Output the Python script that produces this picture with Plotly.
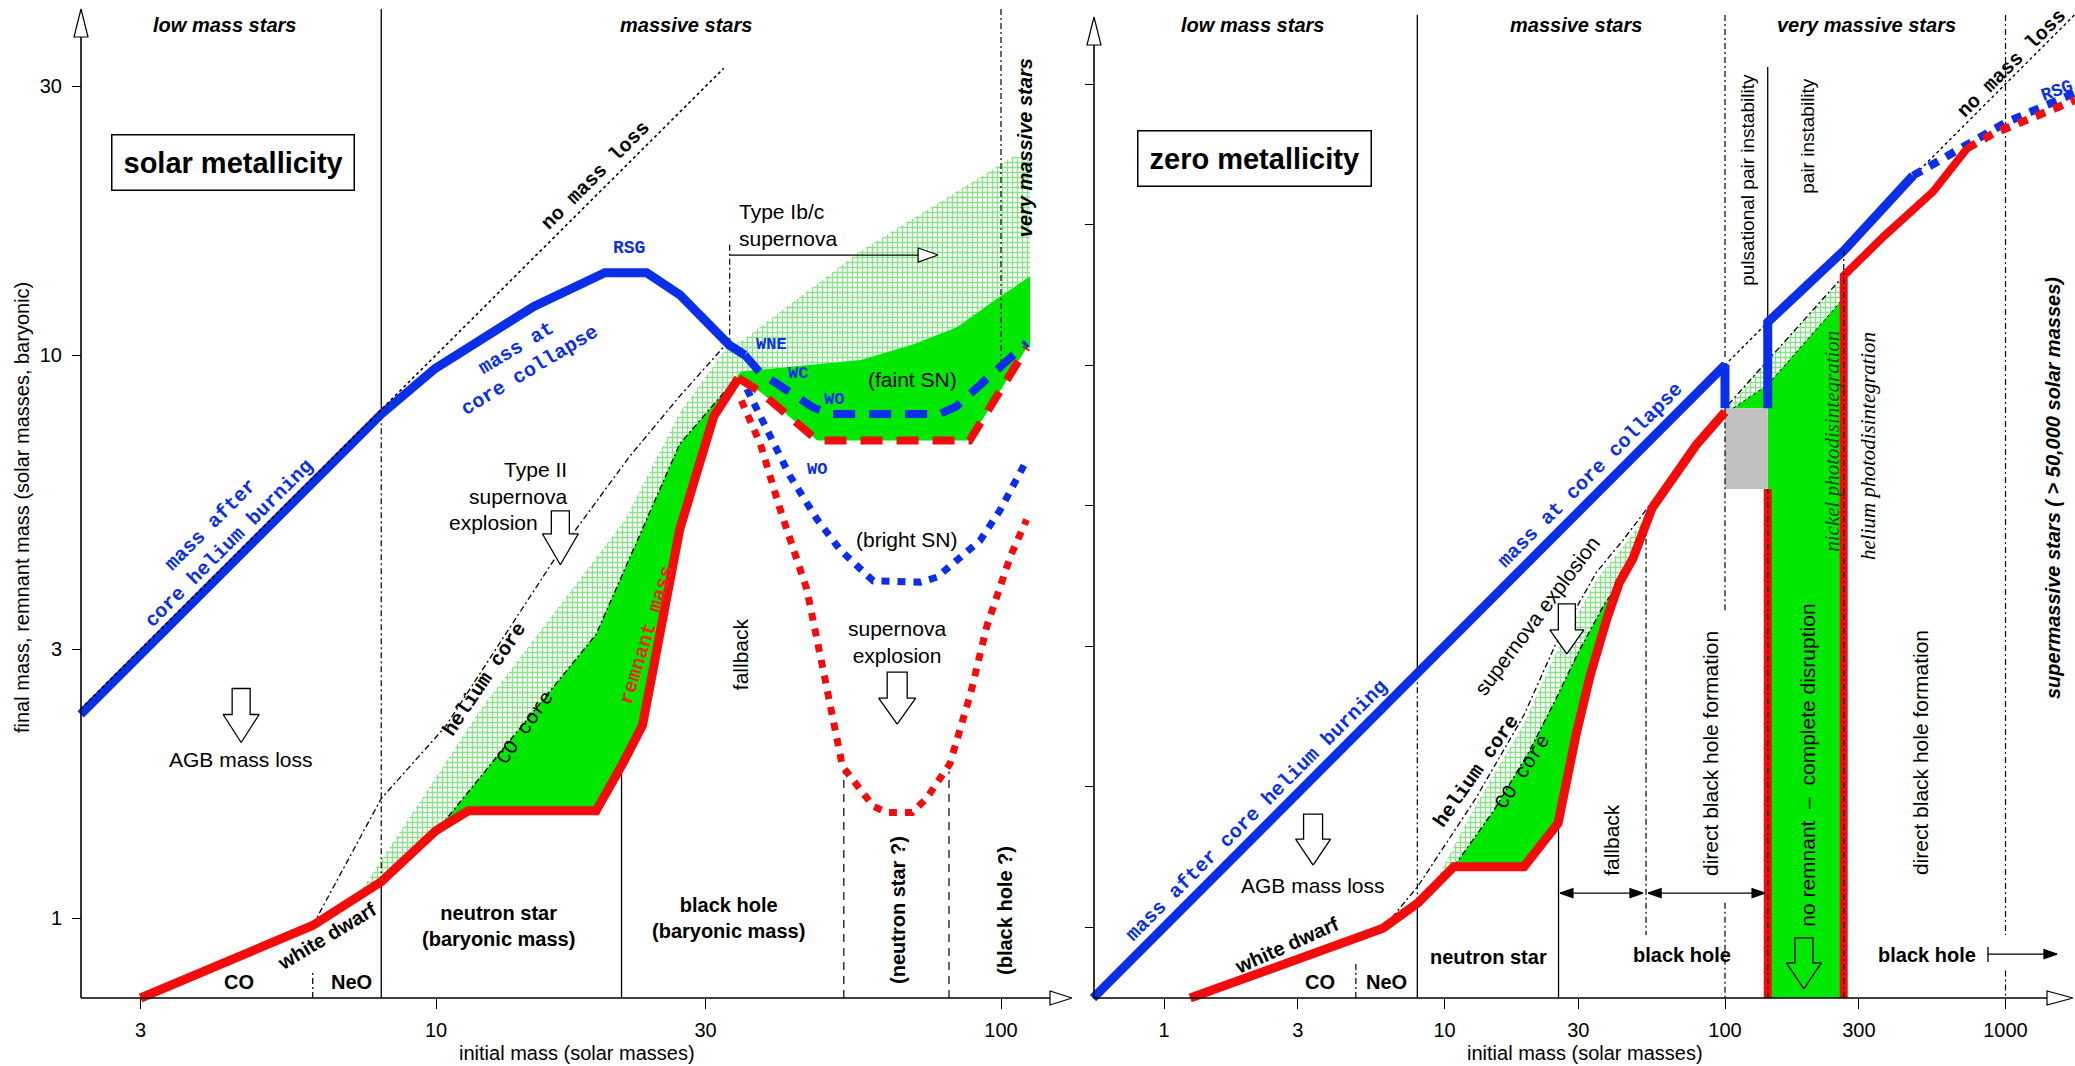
import numpy as np
import plotly.graph_objects as go

# ------------------------------------------------------------------
# Final fate of single stars: final / remnant mass vs. initial mass
# left panel: solar metallicity, right panel: zero metallicity
# all masses in solar masses
# ------------------------------------------------------------------

# ---------- solar metallicity ----------
sol_core_x = [2.35, 8.0, 9.96, 14.9, 19.9, 23.6, 27.0, 33.1, 35.2]          # mass at core collapse
sol_core_y = [2.30, 7.85, 9.46, 12.2, 14.0, 14.0, 12.8, 10.4, 10.0]
sol_wr_faint_x = [35.2, 37.5, 46.6, 49.8, 78.0, 83.3, 111.0]
sol_wr_faint_y = [10.0, 9.3, 8.06, 7.86, 7.86, 8.1, 10.5]
sol_wr_bright_x = [35.5, 38.4, 42.3, 47.3, 52.0, 59.4, 72.0, 77.0, 91.8, 99.6, 111.0]
sol_wr_bright_y = [8.7, 7.45, 6.1, 5.1, 4.5, 3.97, 3.95, 4.03, 4.68, 5.3, 6.5]
sol_rem_x = [3.0, 6.05, 8.0, 10.0, 11.4, 19.2, 21.4, 23.2, 27.0, 31.0, 34.3]   # remnant mass
sol_rem_y = [0.721, 0.97, 1.16, 1.43, 1.55, 1.55, 1.88, 2.2, 4.9, 7.77, 9.1]
sol_rem_faint_x = [34.3, 37.5, 47.3, 88.0, 111.0]
sol_rem_faint_y = [9.1, 8.6, 7.05, 7.05, 10.3]
sol_rem_bright_x = [34.7, 37.5, 40.7, 45.3, 48.3, 51.1, 52.4, 59.4, 62.8, 69.6, 73.8, 81.2, 88.3, 94.4, 104.0, 111.0]
sol_rem_bright_y = [8.3, 6.95, 5.3, 3.84, 2.8, 2.1, 1.86, 1.58, 1.54, 1.54, 1.63, 1.88, 2.5, 3.3, 4.4, 5.1]
sol_he_x = [6.05, 8.0, 10.4, 16.4, 22.0, 27.0, 32.2]                         # helium core
sol_he_y = [0.97, 1.63, 2.19, 4.42, 6.6, 8.45, 10.3]
sol_co_x = [10.15, 19.2, 27.0, 34.0]                                          # CO core
sol_co_y = [1.45, 3.19, 6.95, 9.1]
sol_cotop_x = [34.6, 56.4, 70.0, 83.5, 99.6, 112.6]
sol_cotop_y = [9.35, 9.8, 10.45, 11.2, 12.7, 13.8]
sol_env_x = [7.25, 12.0, 21.6, 27.0, 32.2, 35.2, 56.4, 105.0, 112.6]         # outer edge of helium layer
sol_env_y = [1.09, 2.35, 5.1, 7.9, 10.1, 10.7, 15.3, 22.5, 22.4]
sol_nml = [2.35, 32.3]                                                        # no-mass-loss line y = x
sol_xticks = [3, 10, 30, 100]
sol_yticks = [1, 3, 10, 30]

# ---------- zero metallicity ----------
z_core_x = [0.5585, 100.0, 100.0]
z_core_y = [0.5585, 100.0, 70.2]
z_core2_x = [142.0, 142.0, 265.0, 468.0]
z_core2_y = [70.2, 142.0, 255.0, 472.0]
z_core_rsg_x = [468.0, 635.0, 830.0, 1005.0, 1770.0]
z_core_rsg_y = [472.0, 560.0, 660.0, 730.0, 930.0]
z_rem_x = [1.24, 6.04, 8.05, 10.8, 19.2, 25.4, 29.4, 33.0, 38.0, 42.0, 47.0, 55.0, 79.0, 100.0]
z_rem_y = [0.5585, 0.99, 1.22, 1.64, 1.64, 2.34, 4.8, 7.8, 12.6, 16.8, 20.5, 31.0, 52.0, 68.0]
z_rem_pisn_x = [142.0, 142.0]
z_rem_pisn_y = [0.5585, 36.2]
z_rem_hi_x = [265.0, 265.0, 367.0, 552.0, 730.0]
z_rem_hi_y = [0.5585, 208.0, 286.0, 414.0, 590.0]
z_rem_rsg_x = [730.0, 907.0, 1250.0, 1770.0]
z_rem_rsg_y = [590.0, 667.0, 760.0, 877.0]
z_he_x = [6.04, 8.05, 12.9, 19.2, 24.8, 34.8, 43.3, 69.0, 100.0, 265.0]
z_he_y = [0.99, 1.4, 2.86, 5.68, 10.05, 18.3, 23.8, 44.0, 70.2, 208.0]
z_co_x = [10.8, 15.0, 20.0, 25.0, 30.0, 37.0, 40.5]
z_co_y = [1.64, 2.6, 4.2, 6.5, 9.5, 14.0, 15.9]
z_co_hi_x = [107.0, 142.0, 265.0]
z_co_hi_y = [70.2, 85.0, 173.0]
z_env_x = [8.95, 12.9, 19.2, 24.8, 34.8, 43.3, 55.0]
z_env_y = [1.36, 2.7, 5.3, 9.3, 17.2, 22.6, 31.0]
z_ppi_x = [100.0, 142.0]        # pulsational pair instability box
z_ppi_y = [36.2, 70.2]
z_nml = [0.5585, 1800.0]
z_xticks = [1, 3, 10, 30, 100, 300, 1000]
z_yticks = [10 ** (k / 2) for k in range(7)]

# ------------------------------------------------------------------
W, H = 2075, 1066
SPLIT = 1083
X_AXIS_PX = 998
SANS = "Liberation Sans, Arial, Helvetica, sans-serif"
MONO = "Liberation Mono, Courier New, monospace"
SERIF = "Liberation Serif, Times New Roman, serif"
BLUE, RED, GREEN, HATCH, GRAY = "#0b2ee8", "#f20c0c", "#00e800", "#12c412", "#c0c0c0"

# panel geometry: reference pixel / log value and pixels per decade
GEOM = {
    "L": dict(dom=(0, SPLIT), xpx=436, xlog=1.0, ppx=565.0, ypx=918, ylog=0.0, ppy=563.0,
              yaxis_px=81, xa="x", ya="y"),
    "R": dict(dom=(SPLIT, W), xpx=1164, xlog=0.0, ppx=280.5, ypx=927, ylog=0.0, ppy=281.0,
              yaxis_px=1094, xa="x2", ya="y2"),
}


def xrange_of(g):
    return [g["xlog"] + (g["dom"][0] - g["xpx"]) / g["ppx"], g["xlog"] + (g["dom"][1] - g["xpx"]) / g["ppx"]]


def yrange_of(g):
    return [g["ylog"] - (H - g["ypx"]) / g["ppy"], g["ylog"] + g["ypx"] / g["ppy"]]


def px_to_x(p, px):
    g = GEOM[p]
    return 10 ** (g["xlog"] + (px - g["xpx"]) / g["ppx"])


def px_to_y(p, py):
    g = GEOM[p]
    return 10 ** (g["ylog"] + (g["ypx"] - py) / g["ppy"])


fig = go.Figure()


def add_line(p, xs, ys, color="black", width=1.2, dash=None):
    g = GEOM[p]
    fig.add_trace(go.Scatter(x=list(xs), y=list(ys), mode="lines", xaxis=g["xa"], yaxis=g["ya"],
                             line=dict(color=color, width=width, dash=dash),
                             hoverinfo="skip", showlegend=False))


def add_area(p, xs, ys, color="white", pattern=None, outline=None, lw=0):
    g = GEOM[p]
    kw = {}
    if pattern is not None:
        kw["fillpattern"] = pattern
    fig.add_trace(go.Scatter(x=list(xs), y=list(ys), mode="lines", fill="toself", fillcolor=color,
                             xaxis=g["xa"], yaxis=g["ya"],
                             line=dict(color=outline if outline else "rgba(0,0,0,0)", width=lw),
                             hoverinfo="skip", showlegend=False, **kw))


def offset(p, x, y, dx, dy):
    g = GEOM[p]
    return x * 10 ** (dx / g["ppx"]), y * 10 ** (dy / g["ppy"])


def px_shape(p, x, y, pts, fill="white", outline="black", lw=1.3):
    xs, ys = zip(*[offset(p, x, y, dx, dy) for dx, dy in pts])
    add_area(p, xs, ys, color=fill, outline=outline, lw=lw)


def block_arrow(p, x, y_tip, length, head_len, stem_w, head_w, fill="white"):
    pts = [(0, 0), (-head_w / 2, head_len), (-stem_w / 2, head_len), (-stem_w / 2, length),
           (stem_w / 2, length), (stem_w / 2, head_len), (head_w / 2, head_len), (0, 0)]
    px_shape(p, x, y_tip, pts, fill=fill)


def head(p, x, y, direction, length=13, half=4.5, fill="black"):
    pts = {"right": [(0, 0), (-length, half), (-length, -half), (0, 0)],
           "left": [(0, 0), (length, half), (length, -half), (0, 0)],
           "up": [(0, 0), (-half, -length), (half, -length), (0, 0)]}[direction]
    px_shape(p, x, y, pts, fill=fill, lw=1.2)


PAT = dict(shape="+", fgcolor=HATCH, bgcolor="white", size=5, solidity=0.45)
DASHDOT = "6px,3px,2px,3px"

# ======================= LEFT PANEL ==========================
# helium layer (hatched)
hx = sol_env_x + sol_cotop_x[::-1] + sol_co_x[::-1] + sol_rem_x[3:1:-1]
hy = sol_env_y + sol_cotop_y[::-1] + sol_co_y[::-1] + sol_rem_y[3:1:-1]
add_area("L", hx, hy, color="white", pattern=PAT)
# CO core (green)
gx = sol_co_x + sol_cotop_x + [112.6] + sol_rem_faint_x[::-1] + sol_rem_x[9:3:-1]
gy = sol_co_y + sol_cotop_y + [10.3] + sol_rem_faint_y[::-1] + sol_rem_y[9:3:-1]
add_area("L", gx, gy, color=GREEN)

# boundaries and guide lines
yb_L, yt_L = px_to_y("L", X_AXIS_PX), px_to_y("L", 9)
add_line("L", [8.0, 8.0], [yt_L, 7.85], width=1.3)
add_line("L", [8.0, 8.0], [7.85, 1.16], dash=DASHDOT)
add_line("L", [8.0, 8.0], [1.16, yb_L], width=1.3)
add_line("L", [6.05, 6.05], [yb_L, 0.80], dash=DASHDOT)
add_line("L", [21.3, 21.3], [yb_L, 1.86], width=1.3)
add_line("L", [100.0, 100.0], [yt_L, 9.6], dash=DASHDOT)
add_line("L", [52.7, 52.7], [yb_L, 1.82], dash="8px,6px")
add_line("L", [80.9, 80.9], [yb_L, 1.82], dash="8px,6px")
# Type Ib/c bracket
add_line("L", [33.1, 33.1], [15.7, 10.4], dash=DASHDOT)
add_line("L", [33.1, 71.3], [15.05, 15.05], width=1.2)
head("L", 77.4, 15.05, "right", length=20, half=7, fill="white")
# cores
add_line("L", sol_he_x, sol_he_y, width=1.3, dash=DASHDOT)
add_line("L", sol_co_x, sol_co_y, width=1.3, dash=DASHDOT)

# thick curves
add_line("L", sol_core_x, sol_core_y, BLUE, 9)
add_line("L", sol_wr_faint_x, sol_wr_faint_y, BLUE, 8, "22px,14px")
add_line("L", sol_wr_bright_x, sol_wr_bright_y, BLUE, 7, "8px,8px")
add_line("L", sol_rem_x, sol_rem_y, RED, 9)
add_line("L", sol_rem_faint_x, sol_rem_faint_y, RED, 8, "22px,14px")
add_line("L", sol_rem_bright_x, sol_rem_bright_y, RED, 7, "8px,8px")
add_line("L", sol_nml, sol_nml, "black", 1.6, "dot")

# open block arrows
block_arrow("L", 4.52, 2.05, 54, 28, 18, 36)
block_arrow("L", 16.6, 4.24, 54, 31, 18, 36)
block_arrow("L", 65.5, 2.21, 52, 26, 20, 37)

# axes with open arrow heads
xa0, xa_tip = px_to_x("L", 81), px_to_x("L", 1072)
ya_tip = px_to_y("L", 9)
add_line("L", [xa0, xa_tip / 10 ** (22 / 565)], [yb_L, yb_L], width=1.6)
add_line("L", [xa0, xa0], [yb_L, ya_tip / 10 ** (28 / 563)], width=1.6)
head("L", xa_tip, yb_L, "right", length=22, half=7, fill="white")
head("L", xa0, ya_tip, "up", length=28, half=7, fill="white")

# ======================= RIGHT PANEL ==========================
# helium layers (hatched)
rhx = z_env_x + z_rem_x[10:8:-1] + z_co_x[::-1]
rhy = z_env_y + z_rem_y[10:8:-1] + z_co_y[::-1]
add_area("R", rhx, rhy, color="white", pattern=PAT)
add_area("R", [100.0, 265.0] + z_co_hi_x[::-1], [70.2, 208.0] + z_co_hi_y[::-1], color="white", pattern=PAT)
# CO cores (green)
add_area("R", z_co_x + z_rem_x[8:3:-1], z_co_y + z_rem_y[8:3:-1], color=GREEN)
add_area("R", [107.0, 142.0, 142.0], [70.2, 85.0, 70.2], color=GREEN)
yb_R, yt_R = px_to_y("R", X_AXIS_PX), px_to_y("R", 15)
add_area("R", [142.0, 142.0, 265.0, 265.0], [yb_R, 85.0, 173.0, yb_R], color=GREEN)
# pulsational pair instability
add_area("R", [z_ppi_x[0], z_ppi_x[1], z_ppi_x[1], z_ppi_x[0]],
         [z_ppi_y[0], z_ppi_y[0], z_ppi_y[1], z_ppi_y[1]], color=GRAY)

# boundaries and guide lines
add_line("R", [8.0, 8.0], [yt_R, 8.0], width=1.3)
add_line("R", [8.0, 8.0], [8.0, 1.22], dash=DASHDOT)
add_line("R", [8.0, 8.0], [1.22, yb_R], width=1.3)
add_line("R", [4.83, 4.83], [yb_R, 0.74], dash=DASHDOT)
add_line("R", [25.5, 25.5], [yb_R, 2.34], width=1.3)
add_line("R", [52.3, 52.3], [27.0, 0.937], dash=DASHDOT)
add_line("R", [100.0, 100.0], [yt_R, 106.0], dash=DASHDOT)
add_line("R", [100.0, 100.0], [70.2, 13.4], dash=DASHDOT)
add_line("R", [100.0, 100.0], [1.22, yb_R], dash=DASHDOT)
add_line("R", [142.0, 142.0], [1150.0, 142.0], width=1.3)
add_line("R", [1000.0, 1000.0], [yt_R, 0.937], dash=DASHDOT)
add_line("R", [1000.0, 1000.0], [0.70, yb_R], dash=DASHDOT)
add_line("R", z_he_x, z_he_y, width=1.3, dash=DASHDOT)
add_line("R", z_co_x, z_co_y, width=1.3, dash=DASHDOT)
add_line("R", z_co_hi_x, z_co_hi_y, width=1.0, dash="dot")
add_line("R", z_nml, z_nml, "black", 1.4, "dot")

# thick curves
add_line("R", z_core_x, z_core_y, BLUE, 9)
add_line("R", z_core2_x, z_core2_y, BLUE, 9)
add_line("R", z_core_rsg_x, z_core_rsg_y, BLUE, 8, "10px,9px")
add_line("R", z_rem_x, z_rem_y, RED, 9)
add_line("R", z_rem_pisn_x, z_rem_pisn_y, RED, 8)
add_line("R", z_rem_hi_x, z_rem_hi_y, RED, 8)
add_line("R", z_rem_rsg_x, z_rem_rsg_y, RED, 8, "10px,9px")
add_line("R", [142.0, 142.0], [yb_R, 36.2], dash=DASHDOT)
add_line("R", [265.0, 265.0], [yb_R, 255.0], dash=DASHDOT)

# range arrows for remnant types
add_line("R", [25.8, 51.0], [1.32, 1.32], width=1.3)
head("R", 25.8, 1.32, "left")
head("R", 51.0, 1.32, "right")
add_line("R", [53.2, 138.9], [1.32, 1.32], width=1.3)
head("R", 53.2, 1.32, "left")
head("R", 138.9, 1.32, "right")
add_line("R", [866.0, 1526.0], [0.801, 0.801], width=1.3)
add_line("R", [866.0, 866.0], [0.751, 0.849], width=1.3)
head("R", 1526.0, 0.801, "right")

# open block arrows
block_arrow("R", 3.40, 1.66, 51, 26, 19, 35)
block_arrow("R", 27.3, 9.37, 50, 24, 17, 34)
block_arrow("R", 191.0, 0.602, 51, 26, 18, 35, fill=GREEN)

# axes with open arrow heads
rx0, rx_tip = px_to_x("R", 1094), px_to_x("R", 2073)
ry_tip = px_to_y("R", 17)
add_line("R", [rx0, rx_tip / 10 ** (26 / 280.5)], [yb_R, yb_R], width=1.6)
add_line("R", [rx0, rx0], [yb_R, ry_tip / 10 ** (28 / 281)], width=1.6)
head("R", rx_tip, yb_R, "right", length=26, half=7, fill="white")
head("R", rx0, ry_tip, "up", length=28, half=7, fill="white")

# ======================= LABELS ==========================
ANN = []


def text(p, x, y, s, size=21, color="black", angle=0, family=SANS, **kw):
    g = GEOM[p]
    ANN.append(dict(x=np.log10(x), y=np.log10(y), xref=g["xa"], yref=g["ya"], text=s, showarrow=False,
                    textangle=angle, font=dict(family=family, size=size, color=color), **kw))


def page_text(xpx, ypx, s, angle=0, size=20):
    ANN.append(dict(x=xpx / W, y=1 - ypx / H, xref="paper", yref="paper", showarrow=False,
                    xanchor="center", yanchor="middle", textangle=angle, text=s,
                    font=dict(family=SANS, size=size, color="black")))


# left panel labels
text("L", 4.23, 38.6, "<b><i>low mass stars</i></b>", 20)
text("L", 27.7, 38.6, "<b><i>massive stars</i></b>", 20)
text("L", 110.3, 23.3, "<b><i>very massive stars</i></b>", 20, angle=-90)
text("L", 4.37, 22.0, "<b>solar metallicity</b>", 29, bordercolor="black", borderwidth=1.5, borderpad=11,
     bgcolor="white")
text("L", 19.2, 20.8, "<b>no mass loss</b>", 20, family=MONO, angle=-45)
text("L", 21.96, 15.5, "<b>RSG</b>", 18, BLUE, family=MONO)
text("L", 14.24, 9.82, "<b>mass at<br>core collapse</b>", 20, BLUE, angle=-31, family=MONO)
text("L", 4.14, 4.80, "<b>mass after<br>core helium burning</b>", 20, BLUE, angle=-45, family=MONO)
text("L", 17.2, 5.93, "Type II<br>supernova", 21, xanchor="right", align="right")
text("L", 15.3, 5.05, "explosion", 21, xanchor="right")
text("L", 4.52, 1.91, "AGB mass loss", 21)
text("L", 12.2, 2.65, "<b>helium core</b>", 20, family=MONO, angle=-56)
text("L", 14.4, 2.18, "CO core", 20, family=MONO, angle=-55)
text("L", 23.6, 3.18, "<b>remnant mass</b>", 20, "#e82a14", family=MONO, angle=-73)
text("L", 6.41, 0.929, "<b>white dwarf</b>", 20, angle=-31)
text("L", 4.48, 0.77, "<b>CO</b>", 20)
text("L", 7.1, 0.77, "<b>NeO</b>", 20)
text("L", 12.9, 0.968, "<b>neutron star<br>(baryonic mass)</b>", 20)
text("L", 33.0, 1.0, "<b>black hole<br>(baryonic mass)</b>", 20)
text("L", 34.5, 2.94, "fallback", 21, angle=-90)
text("L", 69.8, 9.03, "(faint SN)", 21)
text("L", 68.2, 4.71, "(bright SN)", 21)
text("L", 65.5, 3.09, "supernova<br>explosion", 21)
text("L", 65.7, 1.033, "<b>(neutron star ?)</b>", 20, angle=-90)
text("L", 101.6, 1.033, "<b>(black hole ?)</b>", 20, angle=-90)
text("L", 39.3, 10.46, "<b>WNE</b>", 17, BLUE, family=MONO)
text("L", 43.7, 9.29, "<b>WC</b>", 17, BLUE, family=MONO)
text("L", 50.6, 8.35, "<b>WO</b>", 17, BLUE, family=MONO)
text("L", 47.2, 6.25, "<b>WO</b>", 17, BLUE, family=MONO)
text("L", 34.1, 17.0, "Type Ib/c<br>supernova", 21, xanchor="left", align="left")

# right panel labels
text("R", 2.06, 1622, "<b><i>low mass stars</i></b>", 20)
text("R", 29.4, 1622, "<b><i>massive stars</i></b>", 20)
text("R", 320, 1622, "<b><i>very massive stars</i></b>", 20)
text("R", 2.11, 541, "<b>zero metallicity</b>", 29, bordercolor="black", borderwidth=1.5, borderpad=11,
     bgcolor="white")
text("R", 119.5, 455, "pulsational pair instability", 19, angle=-90)
text("R", 195.6, 653, "pair instability", 19, angle=-90)
text("R", 240, 53.6, "<i>nickel photodisintegration</i>", 21, "#1c4a1c", angle=-90, family=SERIF)
text("R", 323.5, 51.5, "<i>helium photodisintegration</i>", 21, angle=-90, family=SERIF)
text("R", 1477, 36.5, "<b><i>supermassive stars ( > 50,000 solar masses)</i></b>", 20, angle=-90)
text("R", 1055, 1181, "<b>no mass loss</b>", 20, family=MONO, angle=-45)
text("R", 1522, 942, "<b>RSG</b>", 18, BLUE, family=MONO, angle=-20)
text("R", 33.0, 40.6, "<b>mass at core collapse</b>", 20, BLUE, family=MONO, angle=-45)
text("R", 2.145, 2.59, "<b>mass after core helium burning</b>", 20, BLUE, family=MONO, angle=-45)
text("R", 3.40, 1.40, "AGB mass loss", 21)
text("R", 2.74, 0.863, "<b>white dwarf</b>", 20, angle=-24)
text("R", 3.60, 0.637, "<b>CO</b>", 20)
text("R", 6.21, 0.637, "<b>NeO</b>", 20)
text("R", 14.3, 0.782, "<b>neutron star</b>", 20)
text("R", 70.1, 0.792, "<b>black hole</b>", 20)
text("R", 524, 0.792, "<b>black hole</b>", 20)
text("R", 39.5, 2.04, "fallback", 21, angle=-90)
text("R", 88.4, 4.16, "direct black hole formation", 21, angle=-90)
text("R", 496, 4.16, "direct black hole formation", 21, angle=-90)
text("R", 195.6, 3.77, "no remnant  \u2013  complete disruption", 21, angle=-90)
text("R", 21.4, 12.8, "supernova explosion", 21, angle=-53)
text("R", 12.95, 3.59, "<b>helium core</b>", 20, family=MONO, angle=-55)
text("R", 18.97, 3.55, "CO core", 20, family=MONO, angle=-57)

# axis titles (centred under each panel's axis)
page_text((81 + 1072) / 2, 1053, "initial mass (solar masses)")
page_text((1094 + 2075) / 2, 1053, "initial mass (solar masses)")
page_text(22, 508, "final mass, remnant mass (solar masses, baryonic)", angle=-90)

# ======================= LAYOUT ==========================
axis_common = dict(type="log", showgrid=False, zeroline=False, showline=False, ticks="outside",
                   tickcolor="black", tickwidth=1.3,
                   tickfont=dict(family=SANS, size=20, color="black"))
gL, gR = GEOM["L"], GEOM["R"]
x_pos = (H - X_AXIS_PX) / H
fig.update_layout(
    width=W, height=H, margin=dict(l=0, r=0, t=0, b=0),
    paper_bgcolor="white", plot_bgcolor="white", showlegend=False,
    xaxis=dict(**axis_common, domain=[0, SPLIT / W], range=xrange_of(gL), anchor="free", position=x_pos,
               tickvals=sol_xticks, ticktext=[str(v) for v in sol_xticks], ticklen=10, ticklabelstandoff=4),
    yaxis=dict(**axis_common, domain=[0, 1], range=yrange_of(gL), anchor="free",
               position=gL["yaxis_px"] / W, tickvals=sol_yticks, ticktext=[str(v) for v in sol_yticks],
               ticklen=9, ticklabelstandoff=6),
    xaxis2=dict(**axis_common, domain=[SPLIT / W, 1], range=xrange_of(gR), anchor="free", position=x_pos,
                tickvals=z_xticks, ticktext=[str(v) for v in z_xticks], ticklen=10, ticklabelstandoff=4),
    yaxis2=dict(**axis_common, domain=[0, 1], range=yrange_of(gR), anchor="free",
                position=gR["yaxis_px"] / W, tickvals=z_yticks, showticklabels=False, ticklen=9),
    annotations=ANN,
)

fig.write_html("out.html")
